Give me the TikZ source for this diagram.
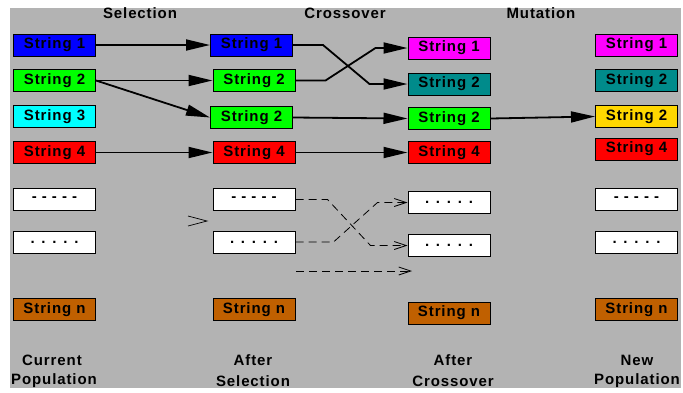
\documentclass[tikz,border=0pt]{standalone}
\usepackage{fontspec}
\setmainfont{Liberation Sans}[LetterSpace=6]
\usetikzlibrary{arrows.meta,calc}
\definecolor{bg}{RGB}{179,179,179}
\definecolor{cblue}{RGB}{0,0,255}
\definecolor{cgreen}{RGB}{0,255,0}
\definecolor{ccyan}{RGB}{0,255,255}
\definecolor{cred}{RGB}{255,0,0}
\definecolor{cmag}{RGB}{255,0,255}
\definecolor{cteal}{RGB}{0,139,139}
\definecolor{cgold}{RGB}{255,215,0}
\definecolor{cbrown}{RGB}{192,96,0}
\tikzset{
  sbox/.style={draw=black,line width=1pt,minimum width=82pt,minimum height=22pt,inner sep=0pt,
    font=\fontsize{15}{16}\selectfont\bfseries},
  lab/.style={font=\fontsize{15}{16}\selectfont\bfseries,inner sep=0pt},
  conn/.style={line width=1.8pt,-{Triangle[length=24pt,width=11pt]}},
  dconn/.style={line width=0.8pt,dash pattern=on 8pt off 5pt,-{Straight Barb[length=12pt,width=8pt]}},
}
\begin{document}
\begin{tikzpicture}[x=1pt,y=-1pt]
\useasboundingbox (0,0) rectangle (683,392);
\fill[white] (0,0) rectangle (683,392);
\fill[bg] (10,8) rectangle (681,388);
% headers
\node[lab] (hsel) at (140,13) {Selection};
\node[lab] (hcro) at (345,13) {Crossover};
\node[lab] (hmut) at (541,13) {Mutation};
% column 1
\node[sbox,fill=cblue] (a1) at (54.5,45) {String 1};
\node[sbox,fill=cgreen] (a2) at (54.5,80.5) {String 2};
\node[sbox,fill=ccyan] (a3) at (54.5,116.5) {String 3};
\node[sbox,fill=cred] (a4) at (54.5,152.5) {String 4};
\node[sbox,fill=white] (a5) at (54.5,199.5) {- - - - -};
\node[sbox,fill=white] (a6) at (54.5,242) {. . . . .};
\node[sbox,fill=cbrown] (an) at (54.5,309.5) {String n};
% column 2
\node[sbox,fill=cblue] (b1) at (251.5,45) {String 1};
\node[sbox,fill=cgreen] (b2) at (254,80.5) {String 2};
\node[sbox,fill=cgreen] (b3) at (251.5,117.5) {String 2};
\node[sbox,fill=cred] (b4) at (254,152.5) {String 4};
\node[sbox,fill=white] (b5) at (254,199.5) {- - - - -};
\node[sbox,fill=white] (b6) at (254,242) {. . . . .};
\node[sbox,fill=cbrown] (bn) at (254,309.5) {String n};
% column 3
\node[sbox,fill=cmag] (c1) at (449,48) {String 1};
\node[sbox,fill=cteal] (c2) at (449,84) {String 2};
\node[sbox,fill=cgreen] (c3) at (449,118.5) {String 2};
\node[sbox,fill=cred] (c4) at (449,152.5) {String 4};
\node[sbox,fill=white] (c5) at (449,202.5) {. . . . .};
\node[sbox,fill=white] (c6) at (449,245.5) {. . . . .};
\node[sbox,fill=cbrown] (cn) at (449,313) {String n};
% column 4
\node[sbox,fill=cmag] (d1) at (636.5,45) {String 1};
\node[sbox,fill=cteal] (d2) at (636.5,80.5) {String 2};
\node[sbox,fill=cgold] (d3) at (636.5,116.5) {String 2};
\node[sbox,fill=cred] (d4) at (636.5,149) {String 4};
\node[sbox,fill=white] (d5) at (636.5,199.5) {- - - - -};
\node[sbox,fill=white] (d6) at (636.5,242) {. . . . .};
\node[sbox,fill=cbrown] (dn) at (636.5,309.5) {String n};
% bottom labels
\node[lab] (l1a) at (52,360) {Current};
\node[lab] (l1b) at (54,381) {Population};
\node[lab] (l2a) at (253,360) {After};
\node[lab] (l2b) at (253,381) {Selection};
\node[lab] (l3a) at (453,360) {After};
\node[lab] (l3b) at (453,381) {Crossover};
\node[lab] (l4a) at (637,360) {New};
\node[lab] (l4b) at (637,381) {Population};
% selection arrows
\draw[conn] (a1.east) -- (b1.west);
\draw[conn] (a2.east) -- (b2.west);
\draw[conn] (a2.east) -- (b3.west);
\draw[conn] (a4.east) -- (b4.west);
% crossover arrows
\draw[conn] (b1.east) -- ++(30,0) -- ($(c2.west)+(-38,0)$) -- (c2.west);
\draw[conn] (b2.east) -- ++(30,0) -- ($(c1.west)+(-32,0)$) -- (c1.west);
\draw[conn] (b3.east) -- (c3.west);
\draw[conn] (b4.east) -- (c4.west);
% mutation arrow
\draw[conn] (c3.east) -- (d3.west);
% dashed crossover arrows
\draw[dconn] (b5.east) -- ++(32,0) -- ($(c6.west)+(-37,0)$) -- (c6.west);
\draw[dconn] (b6.east) -- ++(38,0) -- ($(c5.west)+(-30,0)$) -- (c5.west);
\coordinate (fs) at (296,271);
\coordinate (fe) at (412,271);
\draw[dconn] (fs) -- (fe);
% stray arrow head
\coordinate (g1) at (188,216);
\coordinate (g2) at (207,221);
\coordinate (g3) at (188,226);
\draw[line width=0.7pt] (g1) -- (g2) -- (g3);
\end{tikzpicture}
\end{document}
